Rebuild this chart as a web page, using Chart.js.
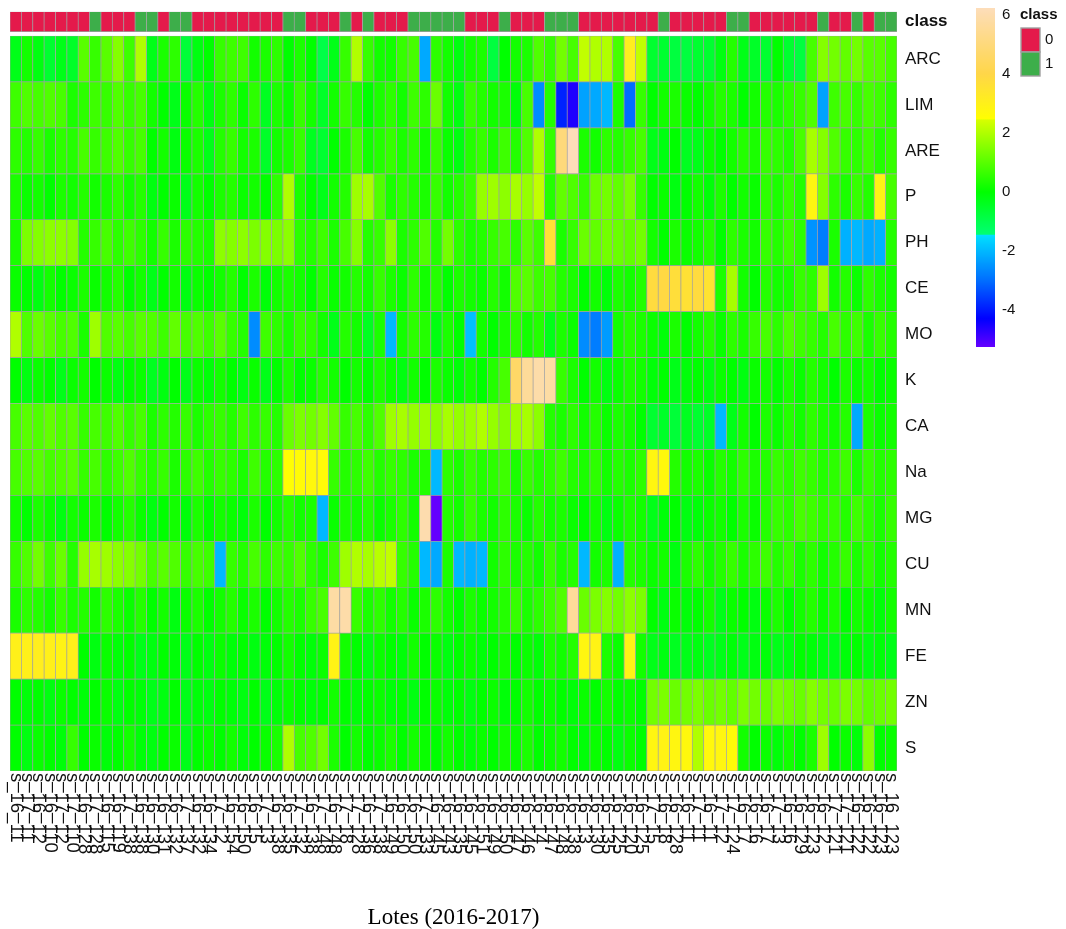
<!DOCTYPE html>
<html><head><meta charset="utf-8">
<script src="https://cdn.jsdelivr.net/npm/chart.js@4.4.0/dist/chart.umd.min.js"></script>
<style>html,body{margin:0;padding:0;background:#fff;}canvas{display:block}</style>
</head><body>
<canvas id="c" width="1066" height="929" style="width:1066px;height:929px"></canvas>
<script>
const samples = ["s_16_11","s_17_11","s_16_12","s_16_110","s_17_12","s_17_110","s_16_128","s_17_128","s_16_115","s_16_119",
"s_17_138","s_16_138","s_16_130","s_16_131","s_16_132","s_17_137","s_16_132","s_16_134","s_17_12","s_16_154",
"s_16_150","s_16_15","s_17_13","s_16_138","s_16_135","s_17_132","s_16_138","s_17_148","s_16_148","s_17_18",
"s_17_128","s_16_136","s_17_138","s_16_149","s_16_150","s_16_150","s_17_133","s_16_145","s_16_143","s_16_135",
"s_16_145","s_16_151","s_16_149","s_16_150","s_16_147","s_16_146","s_16_14","s_16_147","s_16_148","s_16_138",
"s_16_13","s_16_130","s_16_135","s_16_125","s_16_120","s_16_125","s_17_15","s_16_18","s_16_128","s_16_11",
"s_17_11","s_16_11","s_17_12","s_17_124","s_16_17","s_16_16","s_16_17","s_17_13","s_16_16","s_16_129",
"s_16_123","s_16_12","s_17_121","s_17_121","s_16_122","s_16_122","s_16_123","s_16_123"];
const classes = [0,0,0,0,0,0,0,1,0,0, 0,1,1,0,1,1,0,0,0,0, 0,0,0,0,1,1,0,0,0,1, 0,1,0,0,0,1,1,1,1,1,
 0,0,0,1,0,0,0,1,1,1, 0,0,0,0,0,0,0,1,0,0, 0,0,0,1,1,0,0,0,0,0, 0,1,0,0,1,0,1,1];
const rowNames = ["ARC","LIM","ARE","P","PH","CE","MO","K","CA","Na","MG","CU","MN","FE","ZN","S"];
const legendTicks = [6,4,2,0,-2,-4];
const classLevels = ["0","1"];

const ARC=[-0.3,0.2,-0.2,-0.6,-0.3,-0.5, 1.0,0.6,1.0,1.5,0.7,2.0, -0.3,0.3,0.5,-0.7,-0.2,0.0, 0.6,0.7,0.7,0.2,0.3,0.5, 0.0,0.3,0.0,-0.9,-0.3,0.6, 2.0,0.6,0.2,0.2,0.6,0.8, -2.2,0.5,0.2,-0.2,0.2,0.3, -0.8,0.0,0.2,0.3,0.9,0.6, 1.3,0.8,2.2,2.0,2.0,0.8, 3.1,2.2,-0.6,-0.6,-0.8,-0.8, -0.6,-0.6,-0.2,0.4,-0.3,-0.5, -0.6,0.0,-0.6,-0.8,0.8,1.5, 1.3,1.1,1.3,1.0,1.0,0.8];
const LIM=[0.7,0.9,0.8,0.9,0.8,0.3, 0.5,0.7,0.6,0.9,0.6,0.8, 0.2,0.0,-0.3,0.1,0.4,-0.2, 0.3,0.5,0.1,0.5,-0.4,0.3, 0.1,0.6,0.2,-0.5,0.2,0.6, 0.4,0.0,0.3,0.5,0.2,0.7, 0.5,1.2,0.2,-0.2,0.6,0.4, 0.2,0.3,-0.1,0.8,-2.6,0.4, -3.9,-4.6,-2.3,-2.2,-2.0,0.3, -3.0,0.6,0.0,0.2,0.3,0.1, 0.0,0.2,0.4,0.3,0.0,0.2, 0.4,0.3,0.5,0.6,0.9,-2.3, 0.7,0.8,0.6,0.8,0.7,0.5];
const ARE=[0.5,0.4,0.6,0.3,0.5,0.4, 0.8,0.6,0.7,0.9,0.6,0.8, 0.0,0.2,-0.2,0.1,0.3,-0.3, 0.4,0.6,0.2,0.3,-0.5,0.2, 0.3,0.6,-0.4,-0.6,0.0,0.3, 0.8,0.2,0.4,0.6,0.3,0.5, 0.2,0.6,0.1,-0.2,0.4,0.6, 0.3,0.7,0.4,0.9,2.0,0.6, 5.0,6.2,0.3,0.2,0.5,0.4, 0.6,0.8,-0.3,-0.2,0.0,-0.4, -0.3,0.1,0.0,0.2,0.4,0.3, 0.6,0.5,0.4,0.8,1.9,1.5, 0.9,0.6,0.5,0.7,0.4,0.6];
const P=[0.3,0.1,0.2,0.0,0.3,0.2, 0.4,0.2,0.3,0.5,0.2,0.4, -0.2,0.0,0.1,-0.3,0.2,0.0, 0.3,0.4,0.1,0.2,0.0,0.5, 2.0,0.3,0.0,-0.3,0.2,0.4, 1.8,1.9,0.9,0.3,0.5,0.4, 0.3,0.6,0.2,0.4,0.6,1.7, 1.8,1.6,1.9,1.7,2.2,0.4, 1.1,0.9,0.6,1.2,1.3,1.1, 1.4,0.6,0.0,0.1,-0.2,0.0, 0.2,-0.1,0.3,0.0,0.2,0.1, 0.5,0.3,0.6,0.4,2.8,1.5, 0.5,0.3,0.6,0.4,2.9,0.8];
const PH=[0.3,1.4,1.5,1.6,1.6,1.5, 0.4,0.6,0.8,0.5,0.7,0.5, 0.2,0.6,0.3,0.5,0.4,0.3, 1.6,1.5,1.6,1.4,1.5,1.4, 1.6,0.5,0.4,0.7,0.3,0.8, 1.5,0.4,0.6,1.6,0.3,0.5, 0.9,0.4,1.3,0.5,0.3,0.4, 0.6,0.8,0.5,1.0,0.7,3.6, 0.3,0.6,1.2,1.1,1.3,1.2, 1.1,1.3,0.2,0.0,0.3,0.1, 0.2,0.4,0.0,0.5,0.3,0.2, 0.6,0.4,0.7,0.5,-2.5,-2.8, 0.3,-2.1,-2.0,-2.2,-2.1,0.4];
const CE=[0.1,0.0,-0.2,0.2,0.0,0.1, 0.3,0.1,0.2,0.4,0.0,0.2, -0.3,0.0,0.2,-0.2,0.1,0.0, 0.2,0.4,0.0,0.3,-0.1,0.2, 0.3,0.2,0.0,0.4,0.1,0.2, 0.4,0.2,0.6,0.3,0.1,0.5, 0.2,0.4,0.0,0.3,0.2,0.1, 0.4,0.2,0.9,1.0,0.7,0.8, 0.4,0.3,0.0,0.2,-0.1,0.3, 0.2,0.4,3.8,3.9,3.7,3.6, 3.8,3.5,0.3,1.9,0.2,0.0, 0.4,0.2,0.3,0.6,0.5,1.8, 0.2,0.4,0.1,0.5,0.3,0.2];
const MO=[2.0,0.9,1.2,1.0,0.8,0.9, 0.3,1.8,0.9,1.0,0.8,1.0, 0.9,0.7,1.1,0.8,0.9,0.7, 1.0,0.6,0.4,-2.6,0.7,0.5, 0.3,0.6,0.5,0.2,-0.3,0.4, 0.2,-0.4,0.3,-2.0,0.2,0.5, 0.4,-0.2,0.3,0.0,-1.9,0.2, 0.0,0.3,0.5,0.2,0.4,-0.3, 0.3,0.1,-2.6,-2.8,-2.4,0.2, 0.4,0.3,0.1,-0.1,0.3,0.0, 0.2,0.4,0.1,0.5,0.3,0.6, 0.8,0.5,0.9,0.7,0.6,0.4, 0.8,0.5,0.7,0.3,0.6,0.4];
const K=[0.0,-0.2,0.1,0.0,-0.3,0.1, 0.2,0.0,0.1,-0.2,0.0,0.1, -0.4,-0.2,0.0,-0.3,0.1,-0.1, 0.2,0.0,-0.2,0.1,-0.3,0.0, 0.3,0.0,0.1,0.4,0.2,0.0, 0.2,0.0,0.3,0.1,-0.2,0.2, 0.0,0.3,0.1,-0.1,0.2,0.0, 0.4,0.8,4.6,5.6,5.9,5.8, 0.6,0.3,0.0,0.2,-0.2,0.1, 0.3,0.2,-0.1,0.0,-0.3,-0.1, 0.0,-0.2,0.1,0.0,-0.2,0.1, 0.2,0.0,0.3,0.1,0.4,0.2, 0.0,0.3,0.1,0.2,0.0,0.1];
const CA=[0.8,1.0,0.9,1.1,0.9,1.0, 0.6,0.8,0.7,0.9,0.6,0.8, 0.3,0.5,0.4,0.6,0.3,0.5, 0.6,0.4,0.7,0.5,0.6,0.4, 1.2,1.4,1.3,1.5,1.1,0.6, 0.8,0.5,0.9,1.8,1.9,1.7, 1.8,1.6,1.9,1.7,1.8,2.0, 1.7,1.5,1.8,1.9,1.6,0.4, 0.3,0.5,0.2,0.4,0.1,0.3, 0.2,0.0,-0.6,-0.5,-0.7,-0.4, -0.6,-0.5,-2.0,-0.3,0.2,0.0, 0.3,0.1,0.4,0.2,0.5,0.3, 0.2,0.4,-2.2,0.3,0.1,0.2];
const Na=[0.8,0.9,1.0,0.8,0.9,1.0, 0.6,0.8,0.5,0.7,0.9,0.6, 0.4,0.6,0.3,0.5,0.7,0.4, 0.6,0.5,0.3,0.7,0.4,0.5, 2.5,2.6,2.7,2.6,0.6,0.4, 0.5,0.7,0.4,0.6,0.5,0.3, 0.4,-2.0,0.5,0.3,0.6,0.4, 0.5,0.7,0.3,0.6,0.4,0.5, 0.7,0.4,0.3,0.5,0.2,0.4, 0.3,0.5,2.8,2.7,0.4,0.2, 0.3,0.1,0.4,0.2,0.5,0.3, 0.4,0.6,0.5,0.7,0.6,0.4, 0.5,0.7,0.3,0.6,0.4,0.5];
const MG=[0.2,0.0,0.3,0.1,-0.2,0.2, 0.1,0.3,0.0,0.2,0.4,0.1, -0.2,0.0,0.2,-0.1,0.3,0.0, 0.2,0.1,-0.1,0.3,0.0,0.2, 0.4,0.2,0.3,-2.0,0.1,0.3, 0.2,0.4,0.1,0.3,0.5,0.2, 6.0,-5.3,0.4,0.2,0.6,0.3, 0.2,0.5,0.3,0.1,0.4,0.2, 0.3,0.1,0.0,0.2,-0.2,0.1, 0.3,0.2,-0.3,-0.1,0.0,-0.2, -0.1,0.1,0.2,0.0,0.3,0.1, 0.4,0.6,0.5,0.8,0.7,0.5, 0.6,0.4,0.7,0.5,0.3,0.6];
const CU=[0.6,0.9,1.3,0.7,1.2,0.4, 1.7,1.9,1.8,1.6,1.5,1.3, 0.8,1.0,0.9,0.6,0.8,0.7, -2.0,0.6,0.4,0.8,0.5,0.7, 0.6,0.9,0.5,0.3,0.7,1.8, 2.0,1.9,2.1,2.2,0.6,0.4, -2.0,-2.2,0.3,-2.0,-2.1,-2.0, 0.2,0.5,0.3,0.4,0.2,0.6, 0.3,0.4,-2.0,0.2,0.3,-2.1, 0.4,0.3,0.1,0.2,-0.2,0.3, 0.5,0.2,0.4,0.6,0.3,0.5, 0.7,0.4,0.6,0.3,0.5,0.2, 0.4,0.6,0.3,0.5,0.2,0.4];
const MN=[0.3,0.5,0.4,0.2,0.6,0.3, 0.4,0.2,0.5,0.3,0.1,0.4, 0.0,0.2,-0.2,0.1,0.3,0.0, 0.2,0.4,0.1,0.3,0.0,0.2, 0.4,0.3,0.6,0.8,5.8,5.9, 0.6,0.3,0.5,0.2,0.4,0.1, 0.3,0.5,0.2,0.0,0.3,0.1, 0.2,0.4,0.6,0.3,0.5,0.7, 0.9,5.6,1.2,1.4,1.5,1.3, 1.6,1.4,0.0,-0.2,0.1,-0.1, 0.0,0.2,-0.3,0.1,0.0,-0.2, 0.1,0.3,0.0,0.2,0.4,0.1, 0.3,0.0,0.2,0.1,-0.1,0.2];
const FE=[3.0,3.0,3.1,3.0,2.9,3.0, 0.0,-0.2,0.1,-0.1,0.0,-0.3, -0.2,0.0,-0.1,-0.3,0.0,-0.2, 0.1,-0.1,0.0,-0.2,-0.1,0.0, 0.2,0.0,-0.1,0.1,2.9,0.2, 0.0,-0.2,0.1,0.0,-0.1,0.2, 0.0,0.1,-0.2,0.0,0.1,-0.1, 0.0,0.2,0.0,0.1,-0.1,0.3, 0.2,0.4,2.8,2.9,0.3,0.1, 2.9,0.2,-0.3,-0.2,-0.4,-0.3, -0.2,-0.4,-0.3,-0.1,-0.3,-0.2, -0.1,-0.3,-0.2,0.0,-0.1,-0.2, -0.3,-0.1,0.0,-0.2,-0.1,-0.3];
const ZN=[0.0,-0.1,0.0,-0.2,0.1,0.0, -0.1,0.0,0.1,-0.2,0.0,-0.1, -0.3,-0.2,0.0,-0.3,-0.1,-0.2, 0.0,-0.1,-0.2,0.0,-0.3,-0.1, 0.1,0.0,-0.1,0.0,0.2,0.0, -0.1,0.0,0.1,-0.1,0.0,-0.2, 0.0,0.1,-0.1,0.0,-0.2,0.0, 0.1,-0.1,0.0,0.2,0.0,0.1, 0.0,-0.1,0.1,0.0,0.2,0.0, 0.1,0.0,1.3,1.4,1.2,1.3, 1.4,1.2,1.3,1.1,1.4,1.3, 1.2,1.4,1.3,1.2,1.5,1.3, 1.2,1.4,1.3,1.1,1.2,1.3];
const S=[0.0,-0.2,0.1,0.0,-0.1,0.6, 0.0,0.1,-0.1,0.0,0.2,-0.1, -0.2,0.0,0.1,-0.3,0.0,0.1, 0.0,0.2,-0.1,0.0,0.1,0.3, 2.0,0.8,0.9,1.3,0.3,0.0, 0.2,0.0,0.1,0.3,0.0,0.2, 0.1,0.0,0.2,0.0,-0.1,0.1, 0.0,0.2,0.1,0.3,0.0,0.1, 0.2,0.0,-0.1,0.1,0.0,-0.2, 0.1,0.0,2.8,2.9,2.8,2.7, 2.0,2.7,2.8,2.6,0.2,0.0, 0.1,-0.1,0.2,0.0,0.3,1.8, 0.0,0.1,-0.1,1.6,0.0,0.1];

const rowValues = [ARC,LIM,ARE,P,PH,CE,MO,K,CA,Na,MG,CU,MN,FE,ZN,S];

// colour scale
const VMIN = -5.26, VMAX = 6.24;
const SEGMENTS = [
  {lo:-Infinity, hi:-1.45, stops:[[-5.26,[100,0,255]],[-4.3,[0,0,255]],[-3.0,[0,110,255]],[-1.45,[0,225,255]]]},
  {lo:-1.45, hi:2.45, stops:[[-1.45,[0,255,115]],[0,[0,255,0]],[2.45,[215,255,0]]]},
  {lo:2.45, hi:Infinity, stops:[[2.45,[255,255,0]],[4.0,[255,214,72]],[6.24,[253,221,186]]]}
];
function colorFor(v){
  const seg = SEGMENTS.find(s => v >= s.lo && v < s.hi);
  const st = seg.stops;
  if (v <= st[0][0]) return rgb(st[0][1]);
  for (let i=1;i<st.length;i++){
    if (v <= st[i][0]){
      const t = (v - st[i-1][0])/(st[i][0]-st[i-1][0]);
      const a = st[i-1][1], b = st[i][1];
      return rgb([0,1,2].map(k => a[k] + (b[k]-a[k])*t));
    }
  }
  return rgb(st[st.length-1][1]);
}
function rgb(c){ return 'rgb('+c.map(x=>Math.round(x)).join(',')+')'; }

const RED = '#E41A4B', GREEN = '#3DAE4A', BORDER = '#A0A0A0';
const GAP = 0.094, CLS = 0.435;
const YMAX = rowValues.length + GAP + CLS;

const datasets = [];
for (let r = rowValues.length-1; r >= 0; r--) {
  datasets.push({label: rowNames[r], data: rowValues[r].map(()=>1),
    backgroundColor: rowValues[r].map(colorFor), borderColor: BORDER, borderWidth: 0.7, borderSkipped: false});
}
datasets.push({label:'gap', data: classes.map(()=>GAP), backgroundColor:'rgba(0,0,0,0)', borderWidth:0});
datasets.push({label:'class', data: classes.map(()=>CLS), backgroundColor: classes.map(c => c===0?RED:GREEN),
  borderColor: BORDER, borderWidth: 0.7, borderSkipped:false});

const yTickVals = [];
const yTickText = [];
for (let r = 0; r < rowNames.length; r++) { yTickVals.push(rowNames.length - r - 0.5); yTickText.push(rowNames[r]); }
yTickVals.push(rowNames.length + GAP + CLS/2); yTickText.push('class');

const SANS = '"Liberation Sans", Arial, Helvetica, sans-serif';

const extras = {
  id: 'extras',
  afterDraw(chart){
    const ctx = chart.ctx;
    const xs = chart.scales.x;
    const area = chart.chartArea;
    // rotated column labels (top-to-bottom)
    ctx.save();
    ctx.fillStyle = '#111';
    ctx.font = '18.5px ' + SANS;
    ctx.textAlign = 'left';
    ctx.textBaseline = 'middle';
    chart.data.labels.forEach((lab, i) => {
      const x = xs.getPixelForValue(i);
      ctx.save();
      ctx.translate(x, area.bottom + 2);
      ctx.rotate(Math.PI/2);
      ctx.fillText(lab, 0, 0);
      ctx.restore();
    });
    ctx.restore();
    // colour bar
    const bx = 976, bw = 19, by0 = 8, by1 = 347;
    const vToY = v => by1 - (v - VMIN)/(VMAX - VMIN)*(by1 - by0);
    const grad = ctx.createLinearGradient(0, by1, 0, by0);
    const N = 400;
    for (let i=0;i<=N;i++){
      const v = VMIN + (VMAX-VMIN)*i/N;
      grad.addColorStop(i/N, colorFor(v));
    }
    ctx.save();
    ctx.fillStyle = grad;
    ctx.fillRect(bx, by0, bw, by1-by0);
    ctx.fillStyle = '#111';
    ctx.font = '15px ' + SANS;
    ctx.textAlign = 'left';
    ctx.textBaseline = 'middle';
    legendTicks.forEach(t => ctx.fillText(String(t), 1002, vToY(t)));
    // class legend
    ctx.font = 'bold 15px ' + SANS;
    ctx.fillText('class', 1020, 15);
    const boxX = 1021, boxW = 19, boxH = 24;
    [RED, GREEN].forEach((c, i) => {
      const y = 28 + i*boxH;
      ctx.fillStyle = BORDER;
      ctx.fillRect(boxX-0.7, y-0.7, boxW+1.4, boxH+1.4);
      ctx.fillStyle = c;
      ctx.fillRect(boxX+0.7, y+0.7, boxW-1.4, boxH-1.4);
      ctx.fillStyle = '#111';
      ctx.font = '15px ' + SANS;
      ctx.fillText(classLevels[i], 1045, y + boxH/2);
    });
    ctx.restore();
  }
};

new Chart(document.getElementById('c'), {
  type: 'bar',
  data: { labels: samples, datasets },
  options: {
    responsive: false,
    animation: false,
    events: [],
    layout: { padding: { left: 10, top: 11.7, right: 0, bottom: 0 } },
    datasets: { bar: { barPercentage: 1, categoryPercentage: 1 } },
    plugins: { legend: { display: false }, tooltip: { enabled: false } },
    scales: {
      x: {
        stacked: true,
        grid: { display: false }, border: { display: false },
        ticks: { display: false },
        title: { display: true, text: 'Lotes (2016-2017)', color: '#000',
          font: { family: '"Liberation Serif", "Times New Roman", serif', size: 23, lineHeight: 1 },
          padding: { top: 0, bottom: 0 } },
        afterFit: s => { s.height = 158; s.paddingLeft = 0; s.paddingRight = 0; }
      },
      y: {
        stacked: true, position: 'right', min: 0, max: YMAX,
        grid: { display: false, drawTicks: false }, border: { display: false },
        afterFit: s => { s.width = 169; s.paddingTop = 0; s.paddingBottom = 0; },
        afterBuildTicks: s => { s.ticks = yTickVals.map(v => ({ value: v })); },
        ticks: {
          autoSkip: false, padding: 8, color: '#111',
          font: ctx => (ctx.tick && ctx.tick.value > rowNames.length)
            ? { family: SANS, size: 17, weight: 'bold' } : { family: SANS, size: 17 },
          callback: (v) => { const i = yTickVals.indexOf(v); return i >= 0 ? yTickText[i] : ''; }
        }
      }
    }
  },
  plugins: [extras]
});
</script>
</body></html>
